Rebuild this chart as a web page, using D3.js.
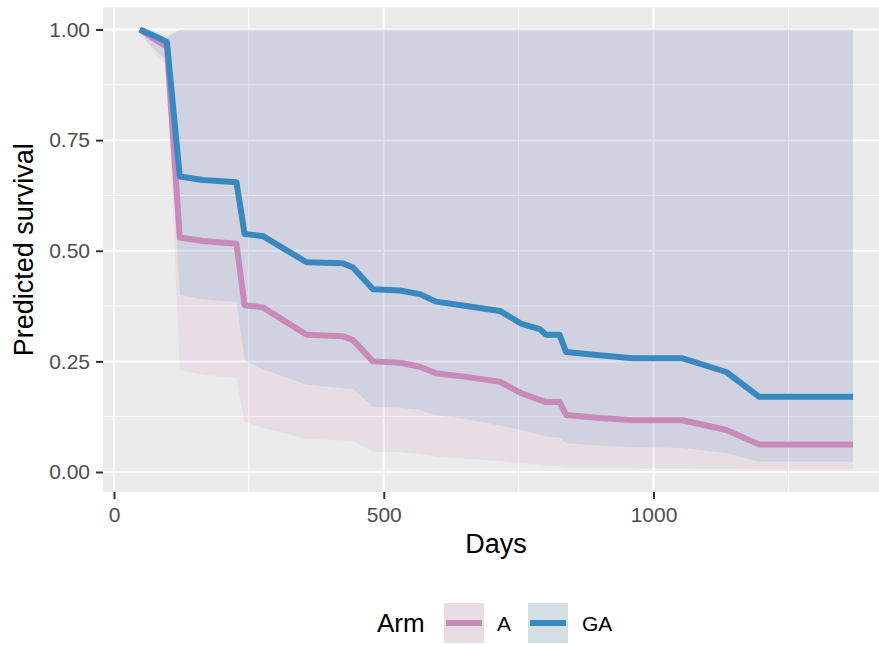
<!DOCTYPE html>
<html>
<head>
<meta charset="utf-8">
<script src="https://cdn.jsdelivr.net/npm/d3@7"></script>
<style>
  html, body { margin: 0; padding: 0; background: #ffffff; }
  svg { display: block; font-family: "Liberation Sans", Arial, Helvetica, sans-serif; }
</style>
</head>
<body>
<svg id="chart" width="879" height="645"></svg>
<script>
// ---------------- data ----------------
const days = [48, 79, 98, 122, 165, 227, 242, 276, 357, 424, 443, 480, 530, 567, 597, 653, 715, 755, 789, 801, 826, 838, 900, 961, 1054, 1135, 1196, 1370];

const survA  = [1.000, 0.975, 0.962, 0.530, 0.522, 0.516, 0.377, 0.372, 0.310, 0.307, 0.298, 0.250, 0.247, 0.238, 0.223, 0.215, 0.204, 0.178, 0.163, 0.158, 0.158, 0.129, 0.122, 0.117, 0.117, 0.095, 0.062, 0.062];
const lowerA = [0.995, 0.940, 0.920, 0.230, 0.220, 0.212, 0.113, 0.100, 0.074, 0.072, 0.070, 0.046, 0.045, 0.040, 0.035, 0.030, 0.025, 0.020, 0.016, 0.014, 0.013, 0.011, 0.010, 0.009, 0.008, 0.007, 0.006, 0.006];
const upperA = [1.000, 0.990, 0.980, 1.000, 1.000, 1.000, 1.000, 1.000, 1.000, 1.000, 1.000, 1.000, 1.000, 1.000, 1.000, 1.000, 1.000, 1.000, 1.000, 1.000, 1.000, 1.000, 1.000, 1.000, 1.000, 1.000, 1.000, 1.000];

const survGA  = [1.000, 0.983, 0.972, 0.668, 0.660, 0.655, 0.538, 0.533, 0.474, 0.472, 0.462, 0.413, 0.410, 0.402, 0.385, 0.375, 0.364, 0.335, 0.323, 0.310, 0.310, 0.271, 0.264, 0.257, 0.257, 0.226, 0.170, 0.170];
const lowerGA = [0.995, 0.950, 0.930, 0.400, 0.390, 0.384, 0.253, 0.232, 0.197, 0.190, 0.188, 0.147, 0.145, 0.140, 0.128, 0.120, 0.105, 0.095, 0.085, 0.080, 0.078, 0.065, 0.060, 0.056, 0.054, 0.043, 0.023, 0.023];
const upperGA = [1.000, 0.995, 0.985, 1.000, 1.000, 1.000, 1.000, 1.000, 1.000, 1.000, 1.000, 1.000, 1.000, 1.000, 1.000, 1.000, 1.000, 1.000, 1.000, 1.000, 1.000, 1.000, 1.000, 1.000, 1.000, 1.000, 1.000, 1.000];

const arms = ["A", "GA"];
const xTicks = [0, 500, 1000];
const xMinor = [250, 750, 1250];
const yTicks = [0, 0.25, 0.5, 0.75, 1.0];
const yMinor = [0.125, 0.375, 0.625, 0.875];

const armColor = { "A": "#c88ab8", "GA": "#3a88c0" };

// ---------------- layout ----------------
const svg = d3.select("#chart");
const panel = { left: 103, right: 889, top: 7.5, bottom: 492 };

const x = d3.scaleLinear().domain([0, 1000]).range([114, 653.5]);
const y = d3.scaleLinear().domain([0, 1]).range([472, 29.5]);

// panel background
svg.append("rect")
  .attr("x", panel.left).attr("y", panel.top)
  .attr("width", panel.right - panel.left).attr("height", panel.bottom - panel.top)
  .attr("fill", "#ebebeb");

const grid = svg.append("g");
// minor gridlines
grid.selectAll(".vminor").data(xMinor).enter().append("line")
  .attr("x1", d => x(d)).attr("x2", d => x(d))
  .attr("y1", panel.top).attr("y2", panel.bottom)
  .attr("stroke", "#ffffff").attr("stroke-width", 1);
grid.selectAll(".hminor").data(yMinor).enter().append("line")
  .attr("x1", panel.left).attr("x2", panel.right)
  .attr("y1", d => y(d)).attr("y2", d => y(d))
  .attr("stroke", "#ffffff").attr("stroke-width", 1);
// major gridlines
grid.selectAll(".vmajor").data(xTicks).enter().append("line")
  .attr("x1", d => x(d)).attr("x2", d => x(d))
  .attr("y1", panel.top).attr("y2", panel.bottom)
  .attr("stroke", "#ffffff").attr("stroke-width", 2);
grid.selectAll(".hmajor").data(yTicks).enter().append("line")
  .attr("x1", panel.left).attr("x2", panel.right)
  .attr("y1", d => y(d)).attr("y2", d => y(d))
  .attr("stroke", "#ffffff").attr("stroke-width", 2);

// build series
const series = [
  { arm: "A",  pts: days.map((d, i) => ({ d, s: survA[i],  lo: lowerA[i],  hi: upperA[i] })) },
  { arm: "GA", pts: days.map((d, i) => ({ d, s: survGA[i], lo: lowerGA[i], hi: upperGA[i] })) }
];

const area = d3.area().x(p => x(p.d)).y0(p => y(p.lo)).y1(p => y(p.hi));
const line = d3.line().x(p => x(p.d)).y(p => y(p.s));

const ribbonAlpha = 0.13;
series.forEach(s => {
  svg.append("path").datum(s.pts)
    .attr("d", area)
    .attr("fill", armColor[s.arm])
    .attr("fill-opacity", ribbonAlpha);
});
series.forEach(s => {
  svg.append("path").datum(s.pts)
    .attr("d", line)
    .attr("fill", "none")
    .attr("stroke", armColor[s.arm])
    .attr("stroke-width", 6)
    .attr("stroke-linejoin", "round")
    .attr("stroke-linecap", "butt");
});

// axes
const yAxis = d3.axisLeft(y).tickValues(yTicks).tickFormat(d3.format(".2f")).tickSize(7).tickPadding(6);
const gy = svg.append("g").attr("transform", `translate(${panel.left},0)`).call(yAxis);
gy.select(".domain").remove();
gy.selectAll(".tick line").attr("stroke", "#333333").attr("stroke-width", 2);
gy.selectAll(".tick text").attr("fill", "#4d4d4d").style("font-size", "21px")
  .style("font-family", "'Liberation Sans', Arial, sans-serif");

const xAxis = d3.axisBottom(x).tickValues(xTicks).tickFormat(d3.format("d")).tickSize(7).tickPadding(8);
const gx = svg.append("g").attr("transform", `translate(0,${panel.bottom})`).call(xAxis);
gx.select(".domain").remove();
gx.selectAll(".tick line").attr("stroke", "#333333").attr("stroke-width", 2);
gx.selectAll(".tick text").attr("fill", "#4d4d4d").style("font-size", "21px")
  .style("font-family", "'Liberation Sans', Arial, sans-serif");

// axis titles
svg.append("text")
  .attr("x", (panel.left + panel.right) / 2).attr("y", 553)
  .attr("text-anchor", "middle").attr("fill", "#000")
  .style("font-size", "27px").text("Days");

svg.append("text")
  .attr("transform", `translate(33,${(panel.top + panel.bottom) / 2}) rotate(-90)`)
  .attr("text-anchor", "middle").attr("fill", "#000")
  .style("font-size", "27px").text("Predicted survival");

// legend
const legend = svg.append("g");
legend.append("text").attr("x", 377).attr("y", 632)
  .attr("fill", "#000").style("font-size", "26px").text("Arm");

const keyX = { "A": 444, "GA": 528 };
const labX = { "A": 497, "GA": 582 };
const keyY = 603, keySize = 40;
arms.forEach(a => {
  legend.append("rect").attr("x", keyX[a]).attr("y", keyY)
    .attr("width", keySize).attr("height", keySize).attr("fill", "#ebebeb");
  legend.append("rect").attr("x", keyX[a]).attr("y", keyY)
    .attr("width", keySize).attr("height", keySize)
    .attr("fill", armColor[a]).attr("fill-opacity", ribbonAlpha);
  legend.append("line")
    .attr("x1", keyX[a] + 2).attr("x2", keyX[a] + keySize - 2)
    .attr("y1", keyY + keySize / 2).attr("y2", keyY + keySize / 2)
    .attr("stroke", armColor[a]).attr("stroke-width", 6);
  legend.append("text").attr("x", labX[a]).attr("y", 631)
    .attr("fill", "#000").style("font-size", "21px").text(a);
});
</script>
</body>
</html>
